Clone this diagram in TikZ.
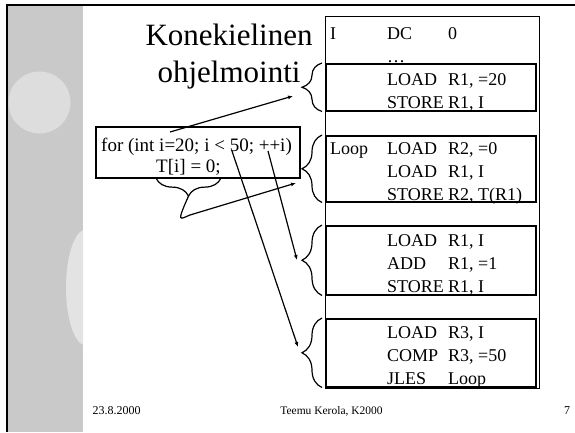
\documentclass[tikz,border=0pt]{standalone}
\usepackage{fontspec}
\setmainfont{Liberation Serif}
\usetikzlibrary{arrows.meta,positioning,decorations.pathreplacing,calc}

\begin{document}
\begin{tikzpicture}[
    x=1pt, y=-1pt,
    code/.style={font=\fontsize{18}{22}\selectfont, inner sep=0pt, anchor=base west},
    group/.style={draw, line width=1.5pt, minimum width=210pt, anchor=north west, inner sep=0pt},
    curly/.style={decorate, decoration={brace, amplitude=#1}, line width=1.2pt},
    arr/.style={-{Latex[length=5pt,width=4pt]}, line width=1.2pt},
    foot/.style={font=\fontsize{12}{14}\selectfont, anchor=base, inner sep=0pt}
  ]
  \useasboundingbox (0,0) rectangle (575,432);
  % slide background
  \fill[gray!42] (7,5) rectangle (83,432);
  \fill[gray!27] (39.5,102.5) circle (31);
  \begin{scope}
    \clip (7,5) rectangle (83,432);
    \fill[gray!22] (86,287.5) ellipse (20 and 58);
  \end{scope}
  \draw[line width=1.5pt] (575,5) -- (7,5) -- (7,432);

  % title
  \node[font=\fontsize{31}{37}\selectfont, anchor=base, inner sep=0pt] (title1) at (229,45) {Konekielinen};
  \node[font=\fontsize{31}{37}\selectfont, anchor=base, inner sep=0pt] (title2) at (229,82) {ohjelmointi};

  % machine code
  \node[draw, line width=1.2pt, minimum width=214pt, minimum height=372pt, anchor=north west] (mem) at (325,16) {};
  \foreach \y/\mnem/\oper/\args in {39/I/DC/0, 62//\ldots/, 85//LOAD/{R1, =20}, 108//STORE/{R1, I},
      154/Loop/LOAD/{R2, =0}, 177//LOAD/{R1, I}, 200//STORE/{R2, T(R1)},
      246//LOAD/{R1, I}, 269//ADD/{R1, =1}, 292//STORE/{R1, I},
      338//LOAD/{R3, I}, 361//COMP/{R3, =50}, 384//JLES/Loop}
  {
    \node[code] (lab\y) at (330,\y) {\mnem};
    \node[code] (op\y) at (387,\y) {\makebox[61pt][l]{\oper}\args};
  }
  \node[group, minimum height=47pt] (g1) at (325,63) {};
  \node[group, minimum height=66pt] (g2) at (325,135) {};
  \node[group, minimum height=69pt] (g3) at (325,225) {};
  \node[group, minimum height=68pt] (g4) at (325,318) {};
  \foreach \g in {g1,g2,g3,g4}
    \draw[curly=20pt] ([xshift=-3pt]\g.south west) -- ([xshift=-3pt]\g.north west);

  % high level code
  \node[draw, line width=1.5pt, minimum width=204pt, minimum height=51pt, anchor=north west] (forbox) at (95,126) {};
  \node[font=\fontsize{19}{21}\selectfont, anchor=base, inner sep=0pt] (head) at (196.5,151) {for (int i=20; i < 50; ++i)};
  \node[font=\fontsize{19}{21}\selectfont, anchor=base, inner sep=0pt] (body) at (188.5,172) {T[i] = 0;};
  \draw[curly=18pt] ([yshift=-3pt]body.south east) -- ([yshift=-3pt]body.south west);
  \coordinate (tipT) at ([yshift=-21pt]body.south);

  \coordinate (init) at (170,132);
  \coordinate (cond) at (232,151);
  \coordinate (incr) at (268,151);
  \coordinate (to1) at (293,96);
  \coordinate (to2) at (296,183);
  \coordinate (to3) at (297,260);
  \coordinate (to4) at (298,347);

  \draw[arr] (init) -- (to1);
  \draw[arr] (tipT) .. controls (176,224) and (180,219) .. (190,215) -- (to2);
  \draw[arr] (incr) -- (to3);
  \draw[arr] (cond) -- (to4);

  % footer
  \node[foot] (date) at (116.5,414) {23.8.2000};
  \node[foot, font=\fontsize{11.5}{14}\selectfont] (author) at (331.5,414) {Teemu Kerola, K2000};
  \node[foot] (page) at (567,414) {7};
\end{tikzpicture}
\end{document}
